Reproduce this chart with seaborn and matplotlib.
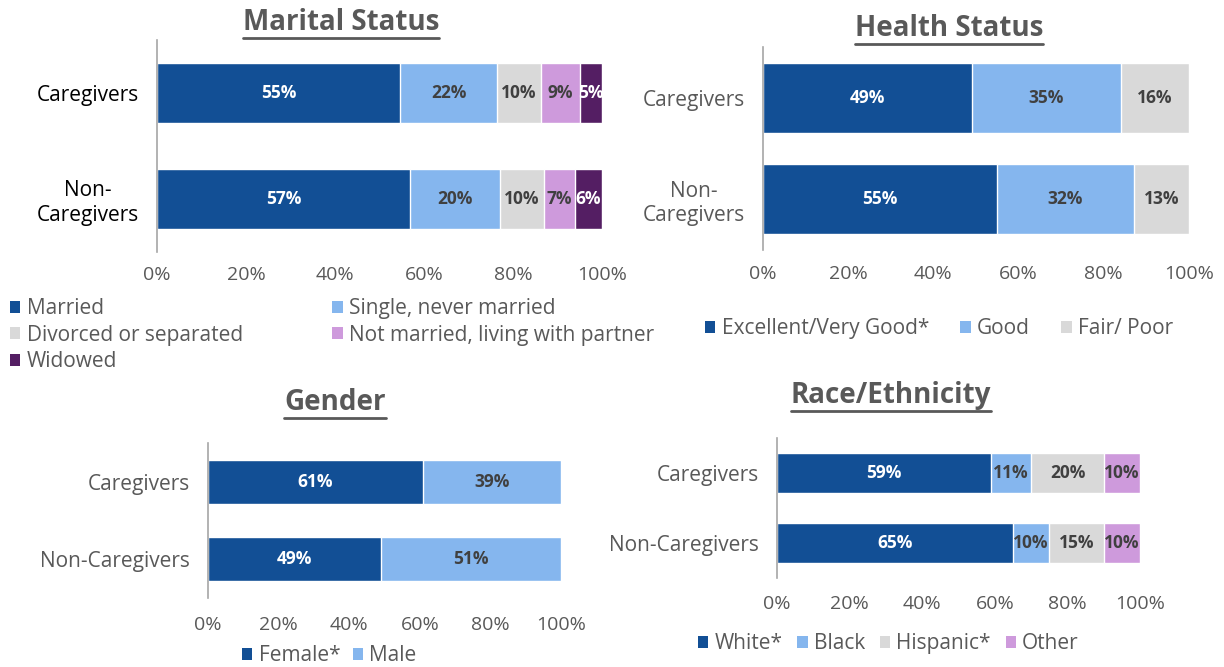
import numpy as np
import pandas as pd
import matplotlib
matplotlib.use("Agg")
import matplotlib.pyplot as plt
from matplotlib.patches import Patch
from matplotlib.lines import Line2D
import seaborn as sns

W, H = 1224, 667

groups = ["Caregivers", "Non-Caregivers"]

# Marital status (%), Caregivers / Non-Caregivers
marital_names = ["Married", "Single, never married", "Divorced or separated",
                 "Not married, living with partner", "Widowed"]
married = [54.6, 56.9]
single = [21.8, 20.2]
divorced = [9.9, 9.9]
partner = [8.8, 6.9]
widowed = [4.9, 6.1]

# Health status (%)
health_names = ["Excellent/Very Good*", "Good", "Fair/ Poor"]
excellent = [49.1, 54.9]
good = [34.9, 32.2]
fair_poor = [16.0, 12.9]

# Gender (%)
gender_names = ["Female*", "Male"]
female = [60.9, 49.0]
male = [39.1, 51.0]

# Race / ethnicity (%)
race_names = ["White*", "Black", "Hispanic*", "Other"]
white = [59.0, 65.0]
black = [11.0, 9.9]
hispanic = [20.1, 15.2]
other = [9.9, 9.9]

xticks = [0, 20, 40, 60, 80, 100]

DARK_BLUE = "#124F95"
LIGHT_BLUE = "#85B6EE"
GREY = "#D9D9D9"
LILAC = "#CE9ADC"
PURPLE = "#541E63"
TXT_GREY = "#595959"
VAL_DARK = "#404040"

sns.set_theme(style="white")
plt.rcParams["font.family"] = ["Open Sans", "DejaVu Sans"]

fig = plt.figure(figsize=(W / 100, H / 100), dpi=100)


def px_axes(x0, x1, ytop, ybot):
    return fig.add_axes([x0 / W, 1 - ybot / H, (x1 - x0) / W, (ybot - ytop) / H])


def draw_panel(ax, ylabels, series, colors, light_text, bar_w, lab_color, xpad):
    vals = np.array(series).T  # rows = groups, cols = series
    cum = np.cumsum(vals, axis=1)
    # draw cumulative totals from the longest down so segments stack
    for j in reversed(range(vals.shape[1])):
        df = pd.DataFrame({"group": groups, "x": cum[:, j]})
        sns.barplot(data=df, x="x", y="group", color=colors[j], saturation=1,
                    width=bar_w, errorbar=None, orient="h", ax=ax)
    for i in range(vals.shape[0]):
        for j in range(vals.shape[1]):
            ax.text(cum[i, j] - vals[i, j] / 2, i, f"{vals[i, j]:.0f}%",
                    ha="center", va="center", fontsize=12.5, fontweight="bold",
                    color="white" if light_text[j] else VAL_DARK)
    ax.set_xlim(0, 100)
    ax.set_ylim(1.5, -0.5)
    ax.set_xticks(xticks)
    ax.set_xticklabels([f"{t}%" for t in xticks])
    ax.set_yticks([0, 1])
    ax.set_yticklabels(ylabels)
    for t in ax.get_yticklabels():
        t.set_multialignment("center")
    ax.set_xlabel("")
    ax.set_ylabel("")
    ax.tick_params(axis="x", length=0, pad=xpad, labelsize=14, labelcolor=TXT_GREY)
    ax.tick_params(axis="y", length=0, pad=13, labelsize=15, labelcolor=lab_color)
    for s in ["top", "right", "bottom"]:
        ax.spines[s].set_visible(False)
    ax.spines["left"].set_color("#A6A6A6")
    ax.spines["left"].set_linewidth(1.2)


def title(text, xc, yc):
    t = fig.text(xc / W, 1 - yc / H, text, ha="center", va="center",
                 fontsize=20, fontweight="bold", color=TXT_GREY)
    return t


def legend(names, colors, x, y, ncol, colsp):
    handles = [Patch(facecolor=c, edgecolor="none") for c in colors]
    fig.legend(handles, names, loc="upper left", bbox_to_anchor=(x / W, 1 - y / H), ncol=ncol,
               frameon=False, fontsize=15, labelcolor=TXT_GREY, handlelength=0.5,
               handleheight=0.5, handletextpad=0.3, columnspacing=colsp,
               labelspacing=0.27, borderpad=0, borderaxespad=0)


# Marital status
ax1 = px_axes(157, 602, 40, 252)
draw_panel(ax1, ["Caregivers", "Non-\nCaregivers"],
           [married, single, divorced, partner, widowed],
           [DARK_BLUE, LIGHT_BLUE, GREY, LILAC, PURPLE],
           [True, False, False, False, True], 0.56, "black", 10)
titles = [title("Marital Status", 341, 22)]
order = [0, 2, 4, 1, 3]
legend([marital_names[k] for k in order],
       [[DARK_BLUE, LIGHT_BLUE, GREY, LILAC, PURPLE][k] for k in order],
       10, 298, 2, 4.3)

# Health status
ax2 = px_axes(763, 1189, 47, 250)
draw_panel(ax2, ["Caregivers", "Non-\nCaregivers"], [excellent, good, fair_poor],
           [DARK_BLUE, LIGHT_BLUE, GREY], [True, False, False], 0.69, TXT_GREY, 11)
titles.append(title("Health Status", 949, 28))
legend(health_names, [DARK_BLUE, LIGHT_BLUE, GREY], 705, 318, 3, 1.5)

# Gender
ax3 = px_axes(208, 561, 443, 598)
draw_panel(ax3, groups, [female, male], [DARK_BLUE, LIGHT_BLUE], [True, False],
           0.57, TXT_GREY, 13)
titles.append(title("Gender", 335, 402))
legend(gender_names, [DARK_BLUE, LIGHT_BLUE], 242, 645, 2, 0.6)

# Race / ethnicity
ax4 = px_axes(777, 1140, 438, 578)
draw_panel(ax4, groups, [white, black, hispanic, other],
           [DARK_BLUE, LIGHT_BLUE, GREY, LILAC], [True, False, False, False],
           0.56, TXT_GREY, 12)
titles.append(title("Race/Ethnicity", 891, 395))
legend(race_names, [DARK_BLUE, LIGHT_BLUE, GREY, LILAC], 698, 633, 4, 0.7)

# underline the panel titles
renderer = fig.canvas.get_renderer()
for t in titles:
    bb = t.get_window_extent(renderer=renderer).transformed(fig.transFigure.inverted())
    yline = bb.y0 - 1.0 / H
    fig.add_artist(Line2D([bb.x0, bb.x1], [yline, yline], transform=fig.transFigure,
                          color=TXT_GREY, linewidth=2))

fig.savefig("out.png", dpi=100)
